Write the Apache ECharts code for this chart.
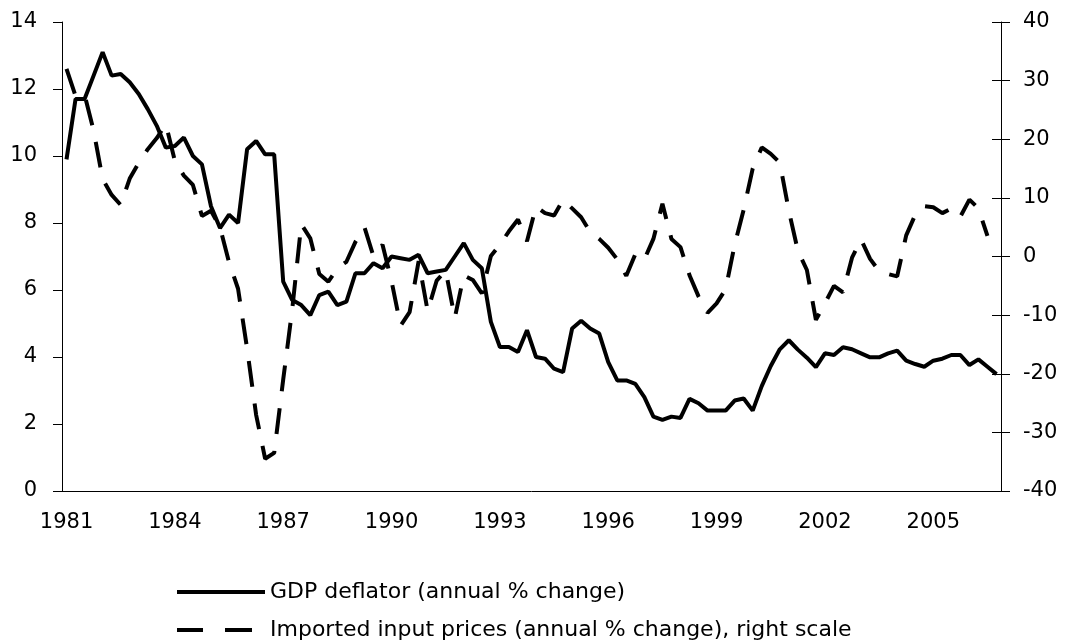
<!DOCTYPE html>
<html>
<head>
<meta charset="utf-8">
<title>GDP deflator and imported input prices</title>
<script src="https://cdn.jsdelivr.net/npm/echarts@6/dist/echarts.min.js"></script>
<style>
  html, body { margin: 0; padding: 0; background: #fff; }
  #chart { width: 1067px; height: 644px; }
</style>
</head>
<body>
<div id="chart"></div>
<script>
// quarterly data, 1981Q1 .. 2006Q4
var firstYear = 1981;
var lastYear = 2006;
var yearTicks = ['1981', '1984', '1987', '1990', '1993', '1996', '1999', '2002', '2005'];

var gdpName = 'GDP deflator (annual % change)';
var importName = 'Imported input prices (annual % change), right scale';

// left scale
var gdpDeflator = [
  9.9, 11.7, 11.7, 12.4, 13.1, 12.4, 12.45, 12.2,
  11.85, 11.4, 10.9, 10.25, 10.3, 10.55, 10.0, 9.75,
  8.5, 7.85, 8.25, 8.0, 10.2, 10.45, 10.05, 10.05,
  6.25, 5.7, 5.55, 5.25, 5.85, 5.95, 5.55, 5.65,
  6.5, 6.5, 6.8, 6.65, 7.0, 6.95, 6.9, 7.05,
  6.5, 6.55, 6.6, 7.0, 7.4, 6.9, 6.65, 5.05,
  4.3, 4.3, 4.15, 4.8, 4.0, 3.95, 3.65, 3.55,
  4.85, 5.08, 4.85, 4.7, 3.85, 3.3, 3.3, 3.2,
  2.8, 2.22, 2.12, 2.22, 2.18, 2.75, 2.62, 2.4,
  2.4, 2.4, 2.7, 2.76, 2.4, 3.13, 3.73, 4.23,
  4.5, 4.22, 3.98, 3.7, 4.11, 4.06, 4.29, 4.23,
  4.11, 3.99, 3.99, 4.11, 4.19, 3.89, 3.79, 3.71,
  3.89, 3.95, 4.06, 4.06, 3.76, 3.93, 3.71, 3.49
];

// right scale
var importPrices = [
  32.0, 27.4, 27.6, 21.5, 13.2, 10.5, 8.8, 13.3,
  16.0, 18.3, 20.2, 22.6, 16.3, 13.8, 12.2, 6.9,
  7.8, 5.0, -1.0, -5.5, -15.7, -27.0, -34.5, -33.5,
  -21.0, -9.0, 5.5, 3.1, -3.0, -4.3, -2.0, -0.9,
  2.5, 5.0, 0.0, 2.0, -4.2, -11.8, -9.5, -0.8,
  -9.3, -4.1, -2.4, -10.5, -3.2, -4.0, -6.3, 0.1,
  2.0, 4.3, 6.3, 2.6, 8.5, 7.4, 7.0, 9.7,
  8.2, 6.7, 4.2, 3.0, 1.5, -0.5, -3.3, 0.4,
  -0.5, 3.0, 9.0, 3.0, 1.6, -3.2, -6.8, -9.6,
  -8.0, -5.6, 2.0, 8.0, 15.0, 18.6, 17.5, 16.0,
  7.8, 1.0, -2.3, -10.8, -8.0, -5.0, -6.1, -0.2,
  2.9, -0.4, -2.5, -3.0, -3.4, 3.6, 7.1, 8.6,
  8.4, 7.4, 8.2, 6.8, 9.7, 8.2, 3.5, null
];

var quarters = [];
for (var yr = firstYear; yr <= lastYear; yr++) {
  for (var q = 1; q <= 4; q++) quarters.push(yr + 'Q' + q);
}

var font = 'DejaVu Sans';
var axisColor = '#000';

var chart = echarts.init(document.getElementById('chart'));

// one legend box per row, so the rows stack without wrapping
function legendRow(name, top, dash) {
  return {
    orient: 'horizontal',
    left: 175,
    top: top,
    padding: 0,
    itemWidth: 88,
    itemHeight: 20,
    // hide the marker dot that line series put in their legend icon
    itemStyle: { color: 'transparent', borderWidth: 0, opacity: 0 },
    lineStyle: dash ? { type: dash, width: 4, color: '#000' } : { width: 4, color: '#000' },
    textStyle: { fontSize: 22, color: '#000', fontFamily: font },
    selectedMode: false,
    data: [name]
  };
}

var option = {
  animation: false,
  backgroundColor: '#fff',
  textStyle: { fontFamily: font, color: '#000' },
  grid: { left: 62, right: 66, top: 22, bottom: 153, outerBoundsMode: 'none' },
  legend: [
    legendRow(gdpName, 581, null),
    legendRow(importName, 619, [26, 22, 27, 40])
  ],
  xAxis: {
    type: 'category',
    data: quarters,
    boundaryGap: true,
    axisLine: { onZero: false, lineStyle: { color: axisColor, width: 1 } },
    axisTick: { interval: 0, length: 6, lineStyle: { color: axisColor } },
    axisLabel: {
      interval: function (idx, val) {
        return val.slice(4) === 'Q1' && yearTicks.indexOf(val.slice(0, 4)) >= 0;
      },
      formatter: function (val) { return val.slice(0, 4); },
      fontSize: 21,
      margin: 21,
      color: '#000'
    },
    splitLine: { show: false }
  },
  yAxis: [
    {
      type: 'value', position: 'left',
      min: 0, max: 14, interval: 2,
      axisLine: { show: true, lineStyle: { color: axisColor, width: 1 } },
      axisTick: { show: true, length: 9, lineStyle: { color: axisColor } },
      axisLabel: { fontSize: 21, margin: 25, color: '#000' },
      splitLine: { show: false }
    },
    {
      type: 'value', position: 'right',
      min: -40, max: 40, interval: 10,
      axisLine: { show: true, lineStyle: { color: axisColor, width: 1 } },
      axisTick: { show: true, length: 9, lineStyle: { color: axisColor } },
      axisLabel: { fontSize: 21, margin: 22, color: '#000' },
      splitLine: { show: false }
    },
    {
      // inner half of the crossing ticks on the right scale
      type: 'value', position: 'right',
      min: -40, max: 40, interval: 10,
      axisLine: { show: false },
      axisTick: { show: true, inside: true, length: 9, lineStyle: { color: axisColor } },
      axisLabel: { show: false },
      splitLine: { show: false }
    }
  ],
  series: [
    {
      name: gdpName,
      type: 'line',
      yAxisIndex: 0,
      data: gdpDeflator,
      symbol: 'none',
      lineStyle: { color: '#000', width: 4 },
      itemStyle: { color: '#000' }
    },
    {
      name: importName,
      type: 'line',
      yAxisIndex: 1,
      data: importPrices,
      symbol: 'none',
      lineStyle: { color: '#000', width: 4, type: [26, 17] },
      itemStyle: { color: '#000' }
    }
  ]
};

chart.setOption(option);
</script>
</body>
</html>
